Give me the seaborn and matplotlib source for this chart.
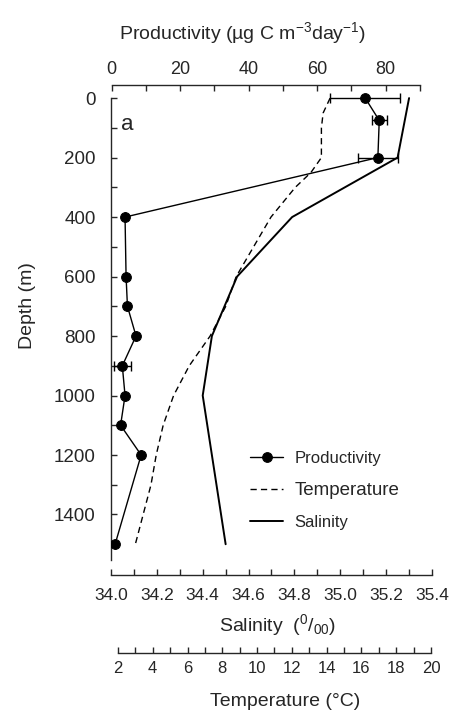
import numpy as np
import pandas as pd
import seaborn as sns
import matplotlib.pyplot as plt
from matplotlib.ticker import MultipleLocator, FormatStrFormatter

# Values #######################################################################

prod_depth = [0, 75, 200, 400, 600, 700, 800, 900, 1000, 1100, 1200, 1500]
prod = [74.0, 78.1, 77.7, 3.9, 4.2, 4.6, 7.1, 3.1, 3.9, 2.6, 8.6, 1.0]
prod_err = [10.2, 2.2, 5.8, 0, 0, 0, 0, 2.5, 0, 0, 0, 0]

sal_depth = [0, 200, 400, 600, 800, 1000, 1500]
sal = [35.30, 35.25, 34.79, 34.55, 34.44, 34.40, 34.50]

temp_depth = [0, 50, 100, 150, 200, 250, 300, 400, 500, 600, 700, 800,
              900, 1000, 1100, 1200, 1300, 1500]
temp = [14.2, 13.8, 13.7, 13.7, 13.7, 13.1, 12.2, 10.8, 9.8, 8.8, 8.2, 7.3,
        6.1, 5.2, 4.6, 4.2, 3.9, 3.0]

# Style ########################################################################

sns.set_style('ticks')
plt.rcParams['font.family'] = ['Liberation Sans', 'DejaVu Sans']
plt.rcParams['mathtext.default'] = 'regular'
plt.rcParams['axes.linewidth'] = 1.0

fig = plt.figure(figsize=(4.51, 7.12), dpi=100)
ax = fig.add_axes([111 / 451, (712 - 560) / 712, 321 / 451, 475 / 712])
ax2 = ax.twiny()   # productivity, top
ax3 = ax.twiny()   # temperature, bottom offset

# Lines ########################################################################

sns.lineplot(x=sal, y=sal_depth, ax=ax, orient='y', sort=False,
             estimator=None, color='k', linewidth=1.4, label='Salinity')

sns.lineplot(x=temp, y=temp_depth, ax=ax3, orient='y', sort=False,
             estimator=None, color='k', linewidth=1.0, dashes=False,
             linestyle=(0, (4.5, 3)), label='Temperature')

sns.lineplot(x=prod, y=prod_depth, ax=ax2, orient='y', sort=False,
             estimator=None, color='k', linewidth=1.0, marker='o',
             markersize=7, markeredgecolor='k', label='Productivity')
ax2.errorbar(prod, prod_depth, xerr=prod_err, fmt='none', ecolor='k',
             elinewidth=1.0, capsize=3.5)

for a in (ax, ax2, ax3):
    if a.get_legend() is not None:
        a.get_legend().remove()

# Axes #########################################################################

ax.set_ylim(1553, -44)
ax.set_xlim(34.0, 35.4)
ax2.set_xlim(-0.2, 93.5)
ax3.set_xlim(1.6, 20.06)

# depth axis
ax.yaxis.set_major_locator(MultipleLocator(200))
ax.yaxis.set_minor_locator(MultipleLocator(100))
ax.tick_params(axis='y', which='both', direction='in', length=4, width=1,
               pad=11, labelsize=13.5, right=False)
ax.spines['left'].set_bounds(0, 1553)
ax.spines['top'].set_visible(False)
ax.spines['right'].set_visible(False)
ax.set_ylabel('Depth (m)', fontsize=14, labelpad=13)
ax.yaxis.label.set_y(0.535)

# salinity axis
ax.spines['bottom'].set_position(('outward', 10.8))
ax.spines['bottom'].set_bounds(34.0, 35.4)
ax.xaxis.set_major_locator(MultipleLocator(0.2))
ax.xaxis.set_minor_locator(MultipleLocator(0.1))
ax.xaxis.set_major_formatter(FormatStrFormatter('%.1f'))
ax.tick_params(axis='x', which='both', direction='in', length=4, width=1,
               pad=9, labelsize=12.5)
ax.set_xlabel('Salinity  ($^{0}$/$_{00}$)', fontsize=14, labelpad=7)
ax.xaxis.label.set_x(0.52)

# productivity axis
for s in ('left', 'right', 'bottom'):
    ax2.spines[s].set_visible(False)
ax2.spines['top'].set_bounds(0, 90)
ax2.xaxis.set_major_locator(MultipleLocator(20))
ax2.xaxis.set_minor_locator(MultipleLocator(10))
ax2.tick_params(axis='x', which='both', direction='in', length=4, width=1,
                pad=5, labelsize=13)
ax2.set_xlabel('Productivity (µg C m$^{-3}$day$^{-1}$)', fontsize=14,
               labelpad=16)
ax2.xaxis.label.set_x(0.41)

# temperature axis
for s in ('left', 'right', 'top'):
    ax3.spines[s].set_visible(False)
ax3.xaxis.set_ticks_position('bottom')
ax3.xaxis.set_label_position('bottom')
ax3.spines['bottom'].set_visible(True)
ax3.spines['bottom'].set_position(('outward', 67))
ax3.spines['bottom'].set_bounds(2, 20)
ax3.xaxis.set_major_locator(MultipleLocator(2))
ax3.xaxis.set_minor_locator(MultipleLocator(1))
ax3.tick_params(axis='x', which='both', direction='in', length=4, width=1,
                pad=6, labelsize=12)
ax3.set_xlabel('Temperature (°C)', fontsize=14, labelpad=12)
ax3.xaxis.label.set_x(0.542)

ax.text(0.03, 0.916, 'a', transform=ax.transAxes, fontsize=16, va='center')

# Legend #######################################################################

handles, labels = [], []
for a in (ax2, ax3, ax):
    h, l = a.get_legend_handles_labels()
    handles += h
    labels += l

leg = ax3.legend(handles, labels, loc='upper left',
                 bbox_to_anchor=(250 / 451, 1 - 451 / 712),
                 bbox_transform=fig.transFigure, frameon=False, fontsize=12,
                 handlelength=2.0, handletextpad=0.65, labelspacing=0.95,
                 borderpad=0, borderaxespad=0)
leg.get_texts()[1].set_fontsize(13.5)

fig.savefig('out.png', dpi=100)
